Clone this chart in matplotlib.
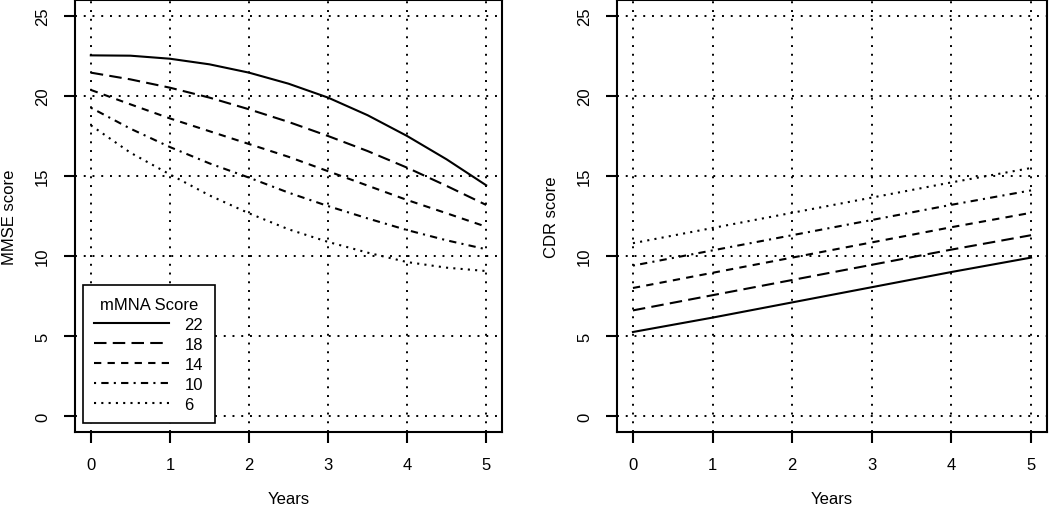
import numpy as np
import matplotlib.pyplot as plt

plt.rcParams['font.family'] = ['Liberation Sans', 'DejaVu Sans']

years = [0, 1, 2, 3, 4, 5]
half_years = [0, 0.5, 1, 1.5, 2, 2.5, 3, 3.5, 4, 4.5, 5]
mmna_labels = ["22", "18", "14", "10", "6"]

# MMSE score by mMNA score (every half year)
mmse_22 = [22.54, 22.52, 22.33, 21.98, 21.46, 20.77, 19.9, 18.8, 17.5, 16.04, 14.42]
mmse_18 = [21.46, 21.04, 20.52, 19.9, 19.17, 18.38, 17.5, 16.56, 15.52, 14.38, 13.19]
mmse_14 = [20.38, 19.48, 18.6, 17.8, 17.0, 16.2, 15.3, 14.4, 13.5, 12.67, 11.83]
mmse_10 = [19.27, 17.96, 16.81, 15.79, 14.9, 13.96, 13.12, 12.35, 11.62, 10.98, 10.42]
mmse_6 = [18.17, 16.46, 15.1, 13.79, 12.67, 11.67, 10.88, 10.21, 9.62, 9.27, 9.06]

# CDR score by mMNA score (right panel, yearly)
cdr_22 = [5.25, 6.15, 7.1, 8.05, 9.0, 9.9]
cdr_18 = [6.6, 7.55, 8.5, 9.45, 10.4, 11.3]
cdr_14 = [8.0, 8.95, 9.9, 10.85, 11.8, 12.7]
cdr_10 = [9.4, 10.35, 11.3, 12.25, 13.2, 14.1]
cdr_6 = [10.8, 11.75, 12.7, 13.65, 14.6, 15.5]

mmse = [mmse_22, mmse_18, mmse_14, mmse_10, mmse_6]
cdr = [cdr_22, cdr_18, cdr_14, cdr_10, cdr_6]

styles = ['-', (0, (6, 3)), (0, (3.5, 3)), (0, (1, 2.5, 3.5, 2.5)), (0, (1, 2.5))]

fig = plt.figure(figsize=(10.5, 5.1), dpi=100)
ax1 = fig.add_axes([75 / 1050, 77 / 510, 427 / 1050, 432 / 510])
ax2 = fig.add_axes([617 / 1050, 77 / 510, 430 / 1050, 432 / 510])


def setup(ax, ylabel):
    ax.set_xlim(-0.2, 5.2)
    ax.set_ylim(-1, 26)
    ax.set_xticks(years)
    ax.set_yticks([0, 5, 10, 15, 20, 25])
    for v in years:
        ax.axvline(v, color='black', lw=1.4, ls=(0, (1, 3.5)), zorder=1)
    for v in [0, 5, 10, 15, 20, 25]:
        ax.axhline(v, color='black', lw=1.4, ls=(0, (1, 3.5)), zorder=1)
    for s in ax.spines.values():
        s.set_linewidth(1.5)
    ax.tick_params(direction='out', length=8, width=1.5, labelsize=12, pad=10)
    for lab in ax.get_yticklabels():
        lab.set_rotation(90)
        lab.set_va('center')
    ax.set_xlabel("Years", fontsize=12, labelpad=14)
    ax.set_ylabel(ylabel, fontsize=12, labelpad=13)


lines = []
for vals, st, lab in zip(mmse, styles, mmna_labels):
    ln, = ax1.plot(half_years, vals, color='black', lw=1.5, ls=st, label=lab, zorder=3)
    lines.append(ln)
for vals, st, lab in zip(cdr, styles, mmna_labels):
    ax2.plot(years, vals, color='black', lw=1.5, ls=st, label=lab, zorder=3)

setup(ax1, "MMSE score")
setup(ax2, "CDR score")

leg = ax1.legend(handles=lines, title="mMNA Score", loc='lower left',
                 bbox_to_anchor=(0.018, 0.02), fontsize=12, title_fontsize=12,
                 fancybox=False, framealpha=1, edgecolor='black',
                 handlelength=4.5, handletextpad=0.9, labelspacing=0.3,
                 borderpad=0.7, borderaxespad=0)
leg.get_frame().set_linewidth(1.2)
leg.set_zorder(5)

fig.savefig("out.png", dpi=100)
